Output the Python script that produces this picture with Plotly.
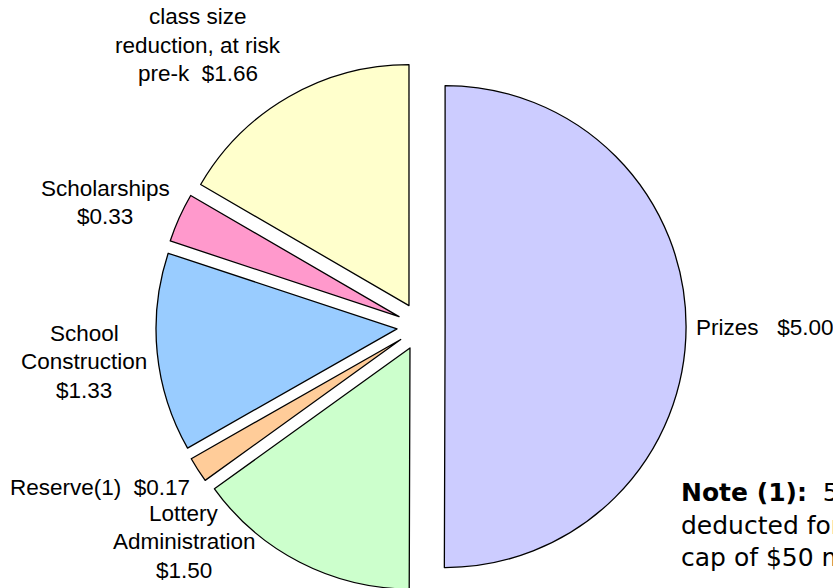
import plotly.graph_objects as go

# ---- data ----
categories = ["Prizes", "Lottery Administration", "Reserve(1)",
              "School Construction", "Scholarships",
              "class size reduction, at risk pre-k"]
values = [5.00, 1.50, 0.17, 1.33, 0.33, 1.66]
# how each category label is broken into lines (value is appended)
name_lines = [["Prizes"], ["Lottery", "Administration"], ["Reserve(1)"],
              ["School", "Construction"], ["Scholarships"],
              ["class size", "reduction, at risk", "pre-k"]]
value_on_new_line = [False, True, False, True, True, False]
value_gap = ["\u00a0\u00a0\u00a0", "", "\u00a0\u00a0", "", "", "\u00a0\u00a0"]
note_lines = ["<b>Note (1):</b>\u00a0\u00a05% of lottery revenue is",
              "deducted for a reserve fund up to a",
              "cap of $50 million."]

# ---- styles / layout ----
colors = ["#CCCCFF", "#CCFFCC", "#FFCC99", "#99CCFF", "#FF99CC", "#FFFFCC"]
W, H = 833, 600
# label anchor (window pixels): x, first-line centre y, xanchor
label_pos = [(694, 327, "left"), (184, 513, "center"), (100, 487, "center"),
             (84, 333, "center"), (105, 188, "center"), (198, 17, "center")]
LINE = 28.5
note_pos = (679, 525)

cx, cy, r, pull = 421, 326.5, 241, 0.1
half = r * (1 + pull)
fig = go.Figure(go.Pie(
    labels=categories, values=values, sort=False, direction="clockwise",
    rotation=0, pull=[pull] * len(values), textinfo="none", hoverinfo="label+value",
    marker=dict(colors=colors, line=dict(color="black", width=1.3)),
    domain=dict(x=[(cx - half) / W, (cx + half) / W],
                y=[1 - (cy + half) / H, 1 - (cy - half) / H]),
    showlegend=False,
))

fam = "Arial, Liberation Sans, sans-serif"
font = dict(family=fam, size=22.5, color="black")
annotations = []


def add_text(text, px, py, xa, f, align="center"):
    annotations.append(dict(
        text=text, x=px / W, y=1 - py / H, xref="paper", yref="paper",
        xanchor=xa, yanchor="middle", showarrow=False, align=align, font=f))


for lines, v, newl, gap, (px, py, xa) in zip(name_lines, values, value_on_new_line,
                                           value_gap, label_pos):
    vtxt = f"${v:.2f}"
    rows = list(lines) + [vtxt] if newl else lines[:-1] + [lines[-1] + gap + vtxt]
    for i, row in enumerate(rows):
        add_text(row, px, py + i * LINE, xa, font)

note_font = dict(family="DejaVu Sans, Arial, sans-serif", size=25, color="black")
add_text("<br>".join(note_lines), note_pos[0], note_pos[1], "left", note_font, "left")

fig.update_layout(width=W, height=H, margin=dict(l=0, r=0, t=0, b=0),
                  paper_bgcolor="white", plot_bgcolor="white",
                  annotations=annotations)
fig.write_html("out.html", config={"displayModeBar": False},
               post_script="document.body.style.margin='0';"
                           "document.body.style.overflow='hidden';"
                           "document.documentElement.style.overflow='hidden';")
